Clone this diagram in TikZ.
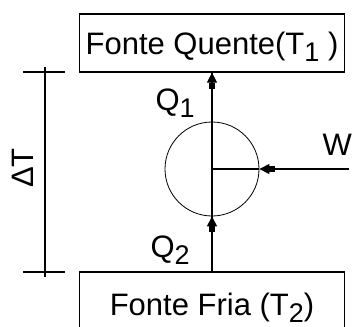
\documentclass[tikz,border=0pt]{standalone}
\usepackage{fontspec}
\setmainfont{Liberation Sans}
\usetikzlibrary{arrows.meta}
\newcommand{\lowsub}[1]{\raisebox{-7pt}{\fontsize{27}{27}\selectfont #1}}
\begin{document}
\begin{tikzpicture}[x=1pt, y=-1pt, line width=1.2pt, font=\fontsize{31}{36}\selectfont,
    box/.style = {draw, minimum width=265pt, text height=22pt, text depth=0pt, inner sep=0pt},
    lbl/.style = {anchor=base west, inner sep=0pt},
    tip/.style = {-{Rectangle[length=6pt,width=6pt,sep=0pt]Triangle[length=10pt,width=10pt]}}]
    \useasboundingbox (0,0) rectangle (354,327);
    \clip (0,0) rectangle (354,327);
    \node[box, minimum height=58pt] (hot) at (212,43) {Fonte Quente(T\lowsub{1} )};
    \node[box, minimum height=64pt] (cold) at (212,304) {Fonte Fria (T\lowsub{2})};
    \node[draw, circle, line width=0.8pt, minimum size=94pt, inner sep=0pt] (eng) at (212,169) {};
    \coordinate (w) at (349,169);
    % heat flows
    \draw (cold.north) -- (hot.south);
    \draw[tip] (cold.north) -- (eng.south);
    \draw[tip] (eng.north) -- (hot.south);
    \draw (eng.center) -- (eng.east);
    \draw[tip] (w) -- (eng.east);
    \node[lbl] (q1) at (155,110) {Q\lowsub{1}};
    \node[lbl] (q2) at (150,257) {Q\lowsub{2}};
    \node[lbl] (wl) at (322,155) {W};
    % temperature difference
    \coordinate (dtt) at (45,67);
    \coordinate (dtb) at (45,277);
    \draw (dtt) -- (dtb);
    \draw (23,72) -- (65,72);
    \draw (23,272) -- (65,272);
    \node[rotate=90, inner sep=0pt] (dt) at (23,168) {ΔT};
\end{tikzpicture}
\end{document}
